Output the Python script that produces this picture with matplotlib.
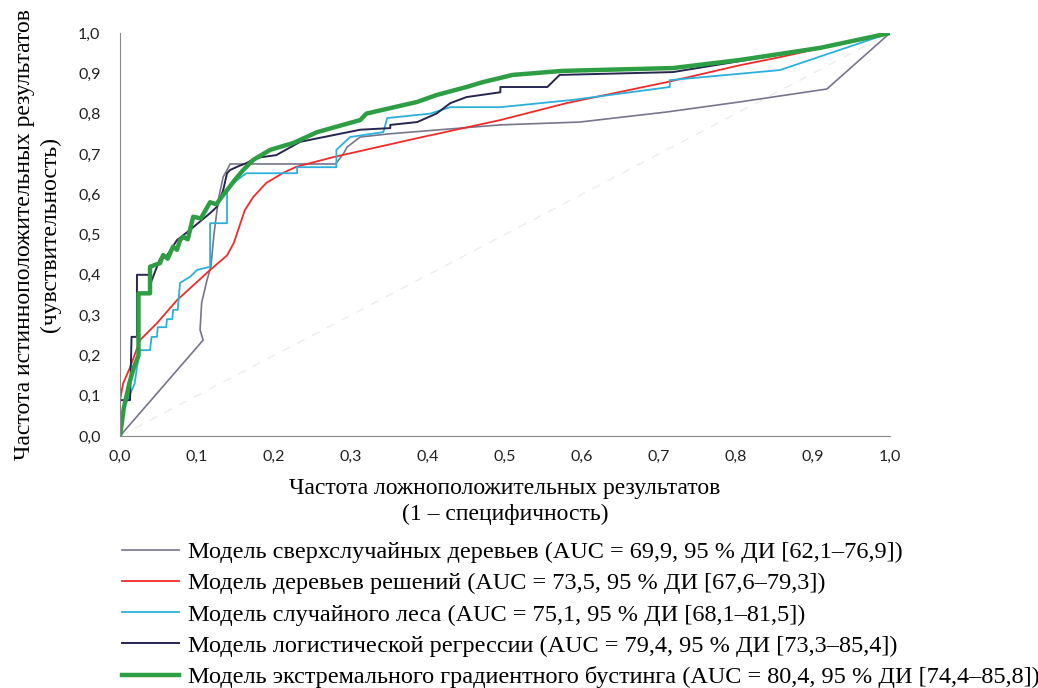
import matplotlib.pyplot as plt
from matplotlib.ticker import FuncFormatter

# ROC points: false positive rate / true positive rate
et_fpr = [0.0, 0.108, 0.104, 0.106, 0.113, 0.118, 0.122, 0.128, 0.134, 0.139, 0.143, 0.234, 0.280, 0.290,
          0.295, 0.312, 0.351, 0.494, 0.597, 0.710, 0.805, 0.918, 1.0]
et_tpr = [0.0, 0.238, 0.263, 0.330, 0.387, 0.420, 0.500, 0.590, 0.643, 0.660, 0.675, 0.675, 0.675, 0.700,
          0.717, 0.742, 0.750, 0.772, 0.779, 0.804, 0.829, 0.861, 1.0]

dt_fpr = [0.0, 0.004, 0.013, 0.026, 0.048, 0.074, 0.117, 0.139, 0.148, 0.155, 0.162, 0.173, 0.190, 0.212,
          0.229, 0.277, 0.386, 0.494, 0.580, 0.710, 0.805, 0.857, 1.0]
dt_tpr = [0.089, 0.130, 0.170, 0.238, 0.280, 0.337, 0.412, 0.448, 0.480, 0.520, 0.560, 0.593, 0.628, 0.653,
          0.668, 0.692, 0.739, 0.784, 0.826, 0.878, 0.920, 0.940, 1.0]

rf_fpr = [0.0, 0.0, 0.004, 0.010, 0.019, 0.022, 0.026, 0.039, 0.041, 0.048, 0.049, 0.060, 0.061, 0.068,
          0.069, 0.075, 0.076, 0.078, 0.091, 0.100, 0.117, 0.117, 0.139, 0.139, 0.152, 0.164, 0.182, 0.230,
          0.230, 0.281, 0.281, 0.299, 0.342, 0.347, 0.403, 0.429, 0.494, 0.588, 0.714, 0.714, 0.857, 1.0]
rf_tpr = [0.0, 0.007, 0.072, 0.090, 0.130, 0.170, 0.213, 0.213, 0.246, 0.246, 0.270, 0.270, 0.290, 0.290,
          0.313, 0.313, 0.337, 0.380, 0.395, 0.412, 0.420, 0.528, 0.528, 0.610, 0.635, 0.652, 0.652, 0.652,
          0.667, 0.667, 0.710, 0.742, 0.754, 0.789, 0.800, 0.816, 0.816, 0.834, 0.866, 0.883, 0.908, 1.0]

lr_fpr = [0.0, 0.0, 0.013, 0.015, 0.022, 0.022, 0.037, 0.040, 0.052, 0.060, 0.074, 0.090, 0.117, 0.126,
          0.134, 0.139, 0.143, 0.152, 0.164, 0.177, 0.203, 0.234, 0.312, 0.351, 0.351, 0.386, 0.411, 0.429,
          0.450, 0.494, 0.494, 0.555, 0.571, 0.718, 0.900, 1.0]
lr_tpr = [0.0, 0.089, 0.089, 0.246, 0.246, 0.400, 0.400, 0.380, 0.440, 0.445, 0.486, 0.510, 0.553, 0.569,
          0.610, 0.652, 0.660, 0.668, 0.677, 0.690, 0.697, 0.730, 0.760, 0.764, 0.772, 0.779, 0.800, 0.826,
          0.841, 0.853, 0.866, 0.866, 0.896, 0.903, 0.960, 1.0]

xgb_fpr = [0.0, 0.005, 0.012, 0.018, 0.024, 0.024, 0.039, 0.039, 0.052, 0.056, 0.062, 0.069, 0.074, 0.078,
           0.082, 0.088, 0.095, 0.105, 0.117, 0.125, 0.134, 0.139, 0.149, 0.160, 0.173, 0.195, 0.225, 0.256,
           0.312, 0.320, 0.386, 0.411, 0.450, 0.471, 0.510, 0.575, 0.718, 0.770, 0.805, 0.909, 1.0]
xgb_tpr = [0.0, 0.070, 0.130, 0.170, 0.200, 0.354, 0.354, 0.420, 0.429, 0.449, 0.440, 0.470, 0.462, 0.486,
           0.494, 0.488, 0.544, 0.540, 0.580, 0.575, 0.598, 0.610, 0.635, 0.660, 0.685, 0.710, 0.727, 0.754,
           0.784, 0.800, 0.829, 0.846, 0.866, 0.878, 0.896, 0.906, 0.913, 0.925, 0.933, 0.963, 1.0]

labels = [
    "Модель сверхслучайных деревьев (AUC = 69,9, 95 % ДИ [62,1–76,9])",
    "Модель деревьев решений (AUC = 73,5, 95 % ДИ [67,6–79,3])",
    "Модель случайного леса (AUC = 75,1, 95 % ДИ [68,1–81,5])",
    "Модель логистической регрессии (AUC = 79,4, 95 % ДИ [73,3–85,4])",
    "Модель экстремального градиентного бустинга (AUC = 80,4, 95 % ДИ [74,4–85,8])",
]

fig = plt.figure(figsize=(10.38, 6.88), dpi=100)
ax = fig.add_axes([120 / 1038, 1 - 436 / 688, 770 / 1038, 403 / 688])

ax.plot([0, 1], [0, 1], color='#ececec', linestyle=(0, (6, 6)), linewidth=1)
l1, = ax.plot(et_fpr, et_tpr, color='#77758c', linewidth=1.2)
l2, = ax.plot(dt_fpr, dt_tpr, color='#ee2b2b', linewidth=1.3)
l3, = ax.plot(rf_fpr, rf_tpr, color='#2bb0dc', linewidth=1.3)
l4, = ax.plot(lr_fpr, lr_tpr, color='#26264f', linewidth=1.4)
l5, = ax.plot(xgb_fpr, xgb_tpr, color='#2e9e44', linewidth=3.2)

ax.set_xlim(0, 1)
ax.set_ylim(0, 1)
ax.set_xticks([i / 10 for i in range(11)])
ax.set_yticks([i / 10 for i in range(11)])
fmt = FuncFormatter(lambda v, p: f"{v:.1f}".replace('.', ','))
ax.xaxis.set_major_formatter(fmt)
ax.yaxis.set_major_formatter(fmt)
ax.tick_params(axis='x', length=0, labelsize=11.5, pad=10)
ax.tick_params(axis='y', length=0, labelsize=11.5, pad=14)
for t in ax.get_xticklabels() + ax.get_yticklabels():
    t.set_family('Lato')
    t.set_color('#222222')
ax.spines['top'].set_visible(False)
ax.spines['right'].set_visible(False)
ax.spines['left'].set_color('#8a8a8a')
ax.spines['bottom'].set_color('#8a8a8a')

ax.set_xlabel("Частота ложноположительных результатов\n(1 – специфичность)",
              family='Liberation Serif', fontsize=17, linespacing=1.3, labelpad=10)
ax.set_ylabel("Частота истинноположительных результатов\n(чувствительность)",
              family='Liberation Serif', fontsize=17, linespacing=1.3, labelpad=12)

fig.legend([l1, l2, l3, l4, l5], labels, loc='upper left', bbox_to_anchor=(122 / 1038, 1 - 541 / 688),
           frameon=False, prop={'family': 'Liberation Serif', 'size': 17.5},
           handlelength=2.35, handletextpad=0.35, labelspacing=0.38, borderaxespad=0, borderpad=0)

fig.savefig("out.png", dpi=100)
